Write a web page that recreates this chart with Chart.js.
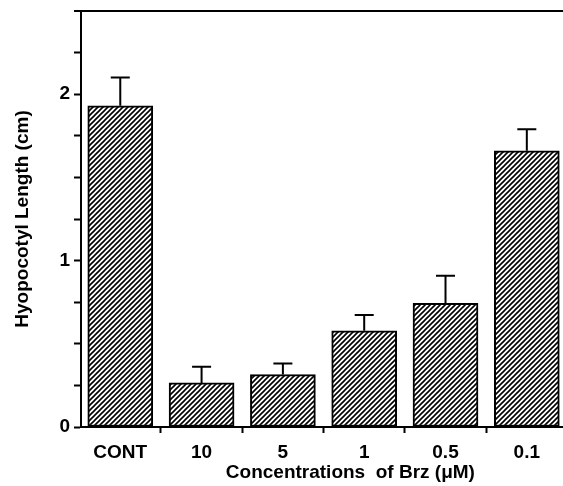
<!DOCTYPE html>
<html>
<head>
<meta charset="utf-8">
<script src="https://cdn.jsdelivr.net/npm/chart.js@4/dist/chart.umd.min.js"></script>
<style>
  html, body { margin: 0; padding: 0; background: #fff; }
  #chart { display: block; }
</style>
</head>
<body>
<canvas id="chart" width="563" height="486"></canvas>
<script>
// data
const categories = ["CONT", "10", "5", "1", "0.5", "0.1"]
const lengths = [1.93, 0.265, 0.315, 0.578, 0.743, 1.66]
const errors = [0.17, 0.097, 0.067, 0.095, 0.166, 0.13]
const yLabels = ["0", "1", "2"]
const xTitle = "Concentrations  of Brz (\u03bcM)"
const yTitle = "Hyopocotyl Length (cm)"

const FONT = "'Liberation Sans', Arial, Helvetica, sans-serif"

// diagonal hatch fill
function hatch() {
    const c = document.createElement("canvas")
    c.width = 5
    c.height = 5
    const g = c.getContext("2d")
    g.fillStyle = "#fff"
    g.fillRect(0, 0, 5, 5)
    g.strokeStyle = "#000"
    g.lineWidth = 1.6
    g.beginPath()
    g.moveTo(-1, 6); g.lineTo(6, -1)
    g.moveTo(-1, 1); g.lineTo(1, -1)
    g.moveTo(4, 6); g.lineTo(6, 4)
    g.stroke()
    return g.createPattern(c, "repeat")
}

const tickVal = ctx => (ctx && ctx.tick) ? ctx.tick.value : null

const errorBars = {
    id: "errorBars",
    afterDatasetsDraw(chart) {
        const {ctx, scales: {x, y}} = chart
        ctx.save()
        ctx.strokeStyle = "#000"
        ctx.lineWidth = 2
        lengths.forEach((v, i) => {
            const px = x.getPixelForValue(i)
            const y0 = y.getPixelForValue(v)
            const y1 = y.getPixelForValue(v + errors[i])
            ctx.beginPath()
            ctx.moveTo(px, y0)
            ctx.lineTo(px, y1)
            ctx.moveTo(px - 9.5, y1)
            ctx.lineTo(px + 9.5, y1)
            ctx.stroke()
        })
        ctx.restore()
    }
}

const xAxisTitle = {
    id: "xAxisTitle",
    afterDraw(chart) {
        const {ctx, scales: {x}} = chart
        ctx.save()
        ctx.fillStyle = "#000"
        ctx.font = "bold 19px " + FONT
        ctx.textAlign = "center"
        ctx.textBaseline = "middle"
        ctx.fillText(xTitle, x.getPixelForValue(2.83), 473)
        ctx.restore()
    }
}

new Chart(document.getElementById("chart"), {
    type: "bar",
    data: {
        datasets: [{
            data: lengths.map((v, i) => ({x: i, y: v})),
            backgroundColor: hatch(),
            borderColor: "#000",
            borderWidth: 2,
            borderSkipped: false,
            barThickness: 65
        }]
    },
    options: {
        responsive: false,
        animation: false,
        devicePixelRatio: 1,
        layout: {padding: {top: 11, left: 0, right: 0, bottom: 0}},
        plugins: {legend: {display: false}, tooltip: {enabled: false}},
        scales: {
            x: {
                type: "linear",
                offset: false,
                min: -0.483,
                max: 5.445,
                afterBuildTicks: scale => {
                    const t = []
                    categories.forEach((c, i) => {
                        t.push({value: i})
                        if (i < categories.length - 1) t.push({value: i + 0.5})
                    })
                    scale.ticks = t
                },
                afterFit: scale => {
                    scale.height = 59
                    scale.paddingLeft = 0
                    scale.paddingRight = 0
                },
                ticks: {
                    autoSkip: false,
                    maxRotation: 0,
                    padding: 8,
                    color: "#000",
                    font: {family: FONT, size: 19, weight: "bold"},
                    callback: v => Number.isInteger(v) ? categories[v] : ""
                },
                grid: {
                    offset: false,
                    drawOnChartArea: false,
                    tickLength: 6,
                    tickWidth: 2,
                    tickColor: ctx => {
                        const v = tickVal(ctx)
                        return v === null || Number.isInteger(v) ? "rgba(0,0,0,0)" : "#000"
                    }
                },
                border: {color: "#000", width: 2}
            },
            y: {
                min: 0,
                max: 2.5,
                afterFit: scale => {
                    scale.width = 81
                    scale.paddingTop = 0
                    scale.paddingBottom = 0
                },
                ticks: {
                    stepSize: 0.25,
                    autoSkip: false,
                    padding: 4,
                    color: "#000",
                    font: {family: FONT, size: 19, weight: "bold"},
                    callback: v => Number.isInteger(v) ? yLabels[v] : ""
                },
                grid: {
                    drawOnChartArea: true,
                    tickLength: 7,
                    color: ctx => tickVal(ctx) === 2.5 ? "#000" : "rgba(0,0,0,0)",
                    lineWidth: ctx => tickVal(ctx) === 2.5 ? 2 : 1,
                    tickColor: "#000",
                    tickWidth: 2
                },
                border: {color: "#000", width: 2},
                title: {
                    display: true,
                    text: yTitle,
                    color: "#000",
                    font: {family: FONT, size: 19, weight: "bold"},
                    padding: {top: 11, bottom: 0}
                }
            }
        }
    },
    plugins: [errorBars, xAxisTitle]
})
</script>
</body>
</html>
